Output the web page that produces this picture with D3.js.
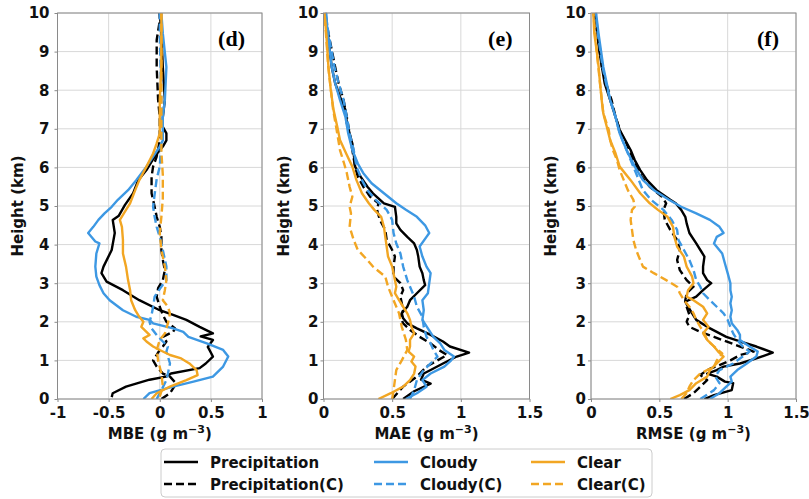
<!DOCTYPE html>
<html><head><meta charset="utf-8">
<script src="https://cdn.jsdelivr.net/npm/d3@7"></script>
<style>
html,body{margin:0;padding:0;background:#fff;}
svg{display:block;font-family:"DejaVu Sans",sans-serif;}
</style></head>
<body>
<script>
// ---------------- DATA (pairs are [height km, value g m-3]) ----------------
const seriesNames = ["Precipitation","Precipitation(C)","Cloudy","Cloudy(C)","Clear","Clear(C)"];
const yTicks = [0,1,2,3,4,5,6,7,8,9,10];
const mbeTicks = [-1,-0.5,0,0.5,1];
const maeTicks = [0,0.5,1,1.5];
const rmseTicks = [0,0.5,1,1.5];
const panelLetters = ["(d)","(e)","(f)"];
const axisTitles = ["MBE","MAE","RMSE"];

const mbePrecip = [[0.05,-0.47],[0.15,-0.46],[0.32,-0.33],[0.5,-0.1],[0.58,0.06],[0.66,0.11],[0.8,0.39],[0.92,0.45],[1.1,0.52],[1.35,0.47],[1.53,0.52],[1.62,0.4],[1.7,0.52],[1.87,0.39],[2.05,0.26],[2.18,0.13],[2.3,0],[2.56,-0.2],[2.82,-0.36],[3.04,-0.52],[3.26,-0.57],[3.43,-0.55],[3.86,-0.47],[4.3,-0.44],[4.64,-0.46],[4.75,-0.4],[5.03,-0.34],[5.33,-0.26],[5.67,-0.21],[5.93,-0.13],[6.28,-0.05],[6.54,0.03],[6.7,0.065],[6.88,0.065],[7.05,0.03],[7.3,0.03],[7.75,0.05],[8.6,0.03],[9.47,0.016],[10,0]];
const mbePrecipC = [[0,0.016],[0.15,0.1],[0.4,0.16],[0.58,0.1],[0.66,0.03],[0.84,-0.03],[1.0,-0.065],[1.14,-0.03],[1.27,0],[1.36,0.03],[1.49,0.065],[1.61,0.03],[1.74,0.13],[1.83,0.15],[2.0,0.065],[2.18,0.03],[2.39,0],[2.65,-0.03],[2.87,-0.016],[3.08,0.03],[3.34,0.05],[3.6,0.03],[3.86,0.016],[4.2,0.016],[4.46,0],[4.72,-0.03],[4.98,-0.05],[5.33,-0.08],[5.76,-0.08],[6.02,-0.065],[6.28,-0.03],[6.7,0],[7.3,0],[7.75,-0.016],[8.6,-0.03],[9.3,-0.03],[9.8,0],[10,0]];
const mbeCloudy = [[0,-0.16],[0.15,-0.1],[0.32,0.13],[0.45,0.33],[0.58,0.52],[0.84,0.62],[1.1,0.67],[1.27,0.62],[1.44,0.46],[1.61,0.28],[1.74,0.23],[1.83,0.13],[1.96,-0.065],[2.05,-0.1],[2.13,-0.23],[2.3,-0.36],[2.56,-0.49],[2.74,-0.55],[2.95,-0.59],[3.17,-0.62],[3.43,-0.63],[3.77,-0.62],[4.03,-0.59],[4.08,-0.63],[4.3,-0.7],[4.46,-0.65],[4.64,-0.6],[4.81,-0.54],[4.98,-0.47],[5.16,-0.41],[5.41,-0.31],[5.67,-0.23],[6.02,-0.13],[6.28,-0.065],[6.54,0],[6.7,0.03],[7.3,0.03],[7.75,0.05],[8.6,0.065],[9.47,0.03],[10,0.016]];
const mbeCloudyC = [[0,-0.03],[0.23,0.016],[0.49,0.065],[0.66,0.08],[0.92,0.1],[1.1,0.08],[1.23,0.065],[1.36,0.08],[1.49,0.03],[1.66,-0.03],[1.83,-0.08],[2.0,-0.1],[2.18,-0.08],[2.39,-0.065],[2.65,-0.05],[2.91,0.016],[3.08,0.065],[3.43,0.065],[3.86,0.03],[4.2,0],[4.46,-0.03],[4.72,-0.05],[4.98,-0.065],[5.3,-0.05],[5.7,-0.03],[6.02,0],[6.7,0.016],[7.75,0.016],[9.47,0],[10,0]];
const mbeClear = [[0,-0.08],[0.15,-0.03],[0.32,0.1],[0.49,0.26],[0.62,0.37],[0.75,0.36],[0.92,0.29],[1.05,0.21],[1.14,0.1],[1.27,0],[1.36,-0.065],[1.49,-0.13],[1.57,-0.16],[1.66,-0.1],[1.74,-0.13],[1.87,-0.18],[2.0,-0.16],[2.13,-0.2],[2.3,-0.24],[2.56,-0.28],[2.82,-0.29],[3.08,-0.31],[3.43,-0.33],[3.77,-0.36],[4.12,-0.36],[4.46,-0.37],[4.64,-0.39],[4.77,-0.36],[4.9,-0.33],[5.07,-0.29],[5.41,-0.24],[5.67,-0.2],[6.02,-0.13],[6.36,-0.065],[6.62,-0.03],[6.88,0],[7.75,0],[8.6,0.016],[10,0.016]];
const mbeClearC = [[0.06,0],[0.32,0.03],[0.66,0.016],[1.0,-0.016],[1.27,-0.03],[1.53,0],[1.7,0.05],[1.96,0.08],[2.22,0.1],[2.39,0.08],[2.56,0.03],[2.82,0.05],[3.08,0.065],[3.43,0.05],[3.86,0.016],[4.3,0],[4.72,0.016],[5.2,0.03],[5.8,0.03],[6.4,0.016],[7.5,0.016],[10,0.016]];

const maePrecip = [[0,0.58],[0.2,0.66],[0.4,0.78],[0.5,0.71],[0.66,0.73],[0.75,0.78],[0.92,0.87],[1.1,0.97],[1.2,1.06],[1.36,0.92],[1.49,0.87],[1.66,0.78],[1.83,0.68],[1.96,0.61],[2.09,0.58],[2.22,0.57],[2.39,0.61],[2.56,0.63],[2.74,0.68],[2.95,0.74],[3.08,0.73],[3.26,0.72],[3.43,0.7],[3.69,0.69],[3.86,0.68],[4.03,0.66],[4.2,0.61],[4.38,0.56],[4.55,0.53],[4.72,0.53],[4.98,0.52],[5.07,0.44],[5.33,0.36],[5.5,0.32],[5.76,0.27],[6.02,0.23],[6.36,0.22],[6.62,0.21],[6.88,0.19],[7.14,0.17],[7.49,0.16],[7.83,0.12],[8.18,0.085],[8.6,0.06],[9.04,0.045],[9.47,0.03],[10,0.012]];
const maePrecipC = [[0,0.5],[0.32,0.58],[0.58,0.68],[0.84,0.75],[1.0,0.83],[1.14,0.9],[1.27,0.84],[1.44,0.78],[1.61,0.7],[1.79,0.63],[1.96,0.58],[2.13,0.56],[2.3,0.58],[2.48,0.57],[2.65,0.56],[2.82,0.58],[3.0,0.56],[3.17,0.51],[3.43,0.51],[3.69,0.52],[3.86,0.5],[4.12,0.46],[4.38,0.45],[4.64,0.41],[4.9,0.39],[5.07,0.4],[5.24,0.34],[5.5,0.29],[5.76,0.25],[6.02,0.23],[6.45,0.21],[6.88,0.19],[7.3,0.17],[7.75,0.146],[8.18,0.11],[8.6,0.085],[9.47,0.036],[10,0.012]];
const maeCloudy = [[0,0.6],[0.15,0.68],[0.32,0.75],[0.49,0.72],[0.66,0.78],[0.84,0.88],[1.0,0.93],[1.1,0.95],[1.27,0.88],[1.44,0.85],[1.61,0.8],[1.83,0.76],[2.05,0.72],[2.3,0.73],[2.56,0.72],[2.74,0.76],[3.0,0.77],[3.26,0.78],[3.43,0.75],[3.69,0.72],[3.95,0.7],[4.2,0.75],[4.3,0.77],[4.5,0.74],[4.72,0.68],[4.9,0.6],[5.07,0.53],[5.33,0.44],[5.59,0.35],[5.85,0.29],[6.1,0.25],[6.45,0.21],[6.88,0.18],[7.3,0.16],[7.75,0.12],[8.18,0.085],[8.6,0.06],[9.04,0.045],[9.47,0.03],[10,0.02]];
const maeCloudyC = [[0,0.63],[0.23,0.66],[0.49,0.68],[0.75,0.73],[0.92,0.78],[1.1,0.83],[1.27,0.8],[1.44,0.78],[1.61,0.75],[1.87,0.73],[2.13,0.72],[2.39,0.68],[2.65,0.66],[2.91,0.63],[3.08,0.61],[3.43,0.58],[3.77,0.56],[4.03,0.53],[4.3,0.51],[4.64,0.5],[4.9,0.46],[5.16,0.38],[5.41,0.32],[5.67,0.28],[6.02,0.24],[6.45,0.22],[6.88,0.19],[7.3,0.17],[7.75,0.146],[8.18,0.11],[8.6,0.08],[9.47,0.036],[10,0.015]];
const maeClear = [[0,0.4],[0.15,0.49],[0.32,0.58],[0.49,0.63],[0.66,0.66],[0.84,0.67],[0.97,0.64],[1.1,0.66],[1.23,0.62],[1.36,0.63],[1.53,0.63],[1.7,0.66],[1.87,0.64],[2.05,0.63],[2.22,0.61],[2.39,0.58],[2.56,0.55],[2.74,0.52],[2.91,0.53],[3.08,0.52],[3.26,0.51],[3.43,0.5],[3.69,0.47],[3.95,0.46],[4.2,0.45],[4.46,0.44],[4.72,0.42],[4.9,0.37],[5.07,0.33],[5.33,0.28],[5.67,0.24],[6.02,0.21],[6.36,0.165],[6.71,0.12],[7.06,0.1],[7.49,0.073],[8.0,0.053],[8.6,0.036],[9.47,0.02],[10,0.007]];
const maeClearC = [[0,0.5],[0.23,0.51],[0.49,0.52],[0.75,0.53],[1.0,0.57],[1.27,0.61],[1.53,0.6],[1.87,0.57],[2.22,0.55],[2.56,0.51],[2.91,0.47],[3.17,0.45],[3.43,0.36],[3.6,0.32],[3.86,0.25],[4.12,0.22],[4.46,0.19],[4.81,0.2],[4.98,0.19],[5.24,0.21],[5.5,0.19],[5.85,0.17],[6.1,0.15],[6.45,0.12],[6.88,0.1],[7.5,0.07],[8.6,0.035],[10,0.007]];

const rmsePrecip = [[0,0.83],[0.1,0.9],[0.23,1.03],[0.41,1.04],[0.45,0.98],[0.58,0.92],[0.66,0.85],[0.75,0.92],[0.84,0.97],[0.92,1.09],[1.05,1.21],[1.2,1.33],[1.36,1.21],[1.49,1.09],[1.61,0.99],[1.74,0.92],[1.87,0.85],[2.05,0.77],[2.22,0.74],[2.39,0.71],[2.52,0.69],[2.65,0.77],[2.82,0.82],[3.0,0.88],[3.08,0.85],[3.26,0.82],[3.43,0.82],[3.69,0.83],[3.86,0.8],[4.03,0.77],[4.3,0.72],[4.55,0.7],[4.72,0.69],[4.9,0.66],[5.07,0.62],[5.16,0.58],[5.41,0.48],[5.67,0.41],[5.93,0.36],[6.19,0.32],[6.45,0.29],[6.71,0.25],[6.97,0.21],[7.3,0.18],[7.75,0.14],[8.18,0.1],[8.6,0.08],[9.04,0.06],[9.47,0.046],[10,0.03]];
const rmsePrecipC = [[0,0.68],[0.15,0.75],[0.32,0.8],[0.49,0.85],[0.62,0.8],[0.75,0.85],[0.88,0.94],[1.0,1.02],[1.14,1.09],[1.23,1.19],[1.36,1.09],[1.49,0.99],[1.61,0.9],[1.74,0.8],[1.87,0.72],[2.0,0.7],[2.18,0.72],[2.39,0.7],[2.56,0.69],[2.74,0.7],[2.91,0.75],[3.08,0.7],[3.34,0.65],[3.6,0.63],[3.86,0.65],[4.12,0.63],[4.38,0.58],[4.64,0.54],[4.9,0.53],[5.07,0.55],[5.24,0.52],[5.5,0.43],[5.76,0.37],[6.02,0.33],[6.28,0.3],[6.62,0.26],[6.88,0.22],[7.3,0.18],[7.75,0.15],[8.18,0.11],[8.6,0.08],[9.47,0.046],[10,0.03]];
const rmseCloudy = [[0,0.87],[0.15,0.94],[0.32,0.99],[0.45,1.03],[0.58,1.02],[0.75,1.07],[0.92,1.14],[1.1,1.21],[1.23,1.22],[1.36,1.16],[1.53,1.09],[1.66,1.09],[1.79,1.07],[1.96,1.03],[2.13,1.02],[2.3,1.03],[2.48,1.02],[2.65,1.03],[2.82,1.02],[3.0,1.02],[3.26,1.0],[3.51,0.98],[3.77,0.96],[4.03,0.9],[4.2,0.92],[4.3,0.97],[4.46,0.94],[4.64,0.87],[4.81,0.77],[4.98,0.66],[5.16,0.57],[5.41,0.46],[5.67,0.38],[6.02,0.32],[6.45,0.26],[6.88,0.21],[7.3,0.18],[7.75,0.14],[8.18,0.115],[8.6,0.09],[9.47,0.055],[10,0.037]];
const rmseCloudyC = [[0,0.8],[0.23,0.9],[0.41,0.94],[0.58,0.91],[0.75,0.94],[0.92,1.04],[1.1,1.11],[1.23,1.16],[1.36,1.11],[1.53,1.07],[1.7,1.04],[1.87,1.02],[2.05,1.0],[2.22,0.97],[2.39,0.92],[2.56,0.87],[2.74,0.82],[2.91,0.8],[3.08,0.77],[3.34,0.75],[3.6,0.72],[3.86,0.68],[4.12,0.64],[4.38,0.63],[4.64,0.59],[4.9,0.53],[5.16,0.44],[5.41,0.38],[5.67,0.35],[6.02,0.31],[6.45,0.26],[6.88,0.21],[7.3,0.18],[7.75,0.14],[8.18,0.11],[8.6,0.085],[9.47,0.05],[10,0.035]];
const rmseClear = [[0,0.58],[0.1,0.65],[0.23,0.72],[0.41,0.77],[0.58,0.85],[0.75,0.87],[0.92,0.92],[1.1,0.97],[1.23,0.93],[1.36,0.9],[1.53,0.85],[1.7,0.82],[1.87,0.86],[2.05,0.82],[2.22,0.85],[2.39,0.82],[2.56,0.75],[2.65,0.7],[2.82,0.71],[3.0,0.75],[3.17,0.74],[3.43,0.7],[3.69,0.68],[3.95,0.63],[4.2,0.61],[4.46,0.6],[4.72,0.56],[4.9,0.49],[5.07,0.43],[5.33,0.36],[5.67,0.29],[6.02,0.21],[6.36,0.18],[6.71,0.14],[7.06,0.115],[7.4,0.09],[7.75,0.078],[8.18,0.066],[8.6,0.056],[9.04,0.041],[9.47,0.024],[10,0.017]];
const rmseClearC = [[0,0.66],[0.15,0.7],[0.32,0.72],[0.49,0.75],[0.66,0.8],[0.84,0.9],[1.0,0.92],[1.18,0.96],[1.36,0.9],[1.53,0.85],[1.7,0.83],[1.87,0.8],[2.05,0.77],[2.22,0.75],[2.39,0.72],[2.56,0.68],[2.74,0.65],[2.91,0.63],[3.08,0.55],[3.26,0.46],[3.43,0.38],[3.6,0.36],[3.86,0.33],[4.12,0.31],[4.38,0.3],[4.64,0.29],[4.9,0.3],[4.98,0.32],[5.16,0.31],[5.41,0.27],[5.67,0.24],[5.93,0.21],[6.19,0.19],[6.45,0.16],[6.71,0.14],[6.97,0.13],[7.4,0.09],[8.18,0.066],[9.04,0.041],[10,0.017]];

// ---------------- STYLE / LAYOUT ----------------
const colors = ["#000000","#000000","#3d98e3","#3d98e3","#f2a623","#f2a623"];
const dashed = [false,true,false,true,false,true];
const panels = [
  {x0:57.5, x1:262, domain:[-1,1], ticks:mbeTicks, pad:5, series:[mbePrecip,mbePrecipC,mbeCloudy,mbeCloudyC,mbeClear,mbeClearC]},
  {x0:323.5, x1:529.5, domain:[0,1.5], ticks:maeTicks, pad:2, series:[maePrecip,maePrecipC,maeCloudy,maeCloudyC,maeClear,maeClearC]},
  {x0:591, x1:796, domain:[0,1.5], ticks:rmseTicks, pad:2, series:[rmsePrecip,rmsePrecipC,rmseCloudy,rmseCloudyC,rmseClear,rmseClearC]}
];
const yTop = 13, yBot = 399;
const fmt = v => String(v);

const svg = d3.select("body").append("svg").attr("width",809).attr("height",499);

panels.forEach((p,i)=>{
  const x = d3.scaleLinear().domain(p.domain).range([p.x0,p.x1]);
  const y = d3.scaleLinear().domain([0,10]).range([yBot,yTop]);
  const g = svg.append("g");
  g.append("g").selectAll("line").data(p.ticks).join("line")
    .attr("x1",d=>x(d)).attr("x2",d=>x(d)).attr("y1",yTop).attr("y2",yBot)
    .attr("stroke","#d8d8d8").attr("stroke-width",1);
  g.append("g").selectAll("line").data(yTicks).join("line")
    .attr("y1",d=>y(d)).attr("y2",d=>y(d)).attr("x1",p.x0).attr("x2",p.x1)
    .attr("stroke","#d8d8d8").attr("stroke-width",1);
  const cid = "clip"+i;
  svg.append("clipPath").attr("id",cid).append("rect")
    .attr("x",p.x0).attr("y",yTop-2).attr("width",p.x1-p.x0).attr("height",yBot-yTop+2);
  const line = d3.line().x(d=>x(d[1])).y(d=>y(d[0]));
  const lg = g.append("g").attr("clip-path",`url(#${cid})`);
  p.series.forEach((s,k)=>{
    lg.append("path").datum(s).attr("d",line).attr("fill","none")
      .attr("stroke",colors[k]).attr("stroke-width",2.4)
      .attr("stroke-linejoin","round")
      .attr("stroke-dasharray",dashed[k]?"8,4":null);
  });
  g.append("rect").attr("x",p.x0).attr("y",yTop).attr("width",p.x1-p.x0).attr("height",yBot-yTop)
    .attr("fill","none").attr("stroke","#8a8a8a").attr("stroke-width",1);
  const ax = g.append("g").attr("transform",`translate(0,${yBot})`)
    .call(d3.axisBottom(x).tickValues(p.ticks).tickFormat(fmt).tickSize(3).tickPadding(5));
  const ay = g.append("g").attr("transform",`translate(${p.x0},0)`)
    .call(d3.axisLeft(y).tickValues(yTicks).tickFormat(fmt).tickSize(3).tickPadding(p.pad));
  [ax,ay].forEach(a=>{
    a.select(".domain").remove();
    a.selectAll(".tick line").attr("stroke","#8a8a8a");
    a.selectAll(".tick text").attr("fill","#111").attr("font-size",15).attr("font-weight","bold")
      .attr("font-family","DejaVu Sans");
  });
  const t = g.append("text").attr("x",(p.x0+p.x1)/2).attr("y",439).attr("text-anchor","middle")
    .attr("font-size",15).attr("font-weight","bold").attr("fill","#111");
  t.append("tspan").text(axisTitles[i]+" (g m");
  t.append("tspan").attr("dy",-6).attr("font-size",11).text("\u22123");
  t.append("tspan").attr("dy",6).text(")");
  g.append("text").attr("transform",`translate(${p.x0-35},${(yTop+yBot)/2}) rotate(-90)`)
    .attr("text-anchor","middle").attr("font-size",15).attr("font-weight","bold").attr("fill","#111")
    .text("Height (km)");
  g.append("text").attr("x",p.x1-17).attr("y",46).attr("text-anchor","end")
    .attr("font-family","Liberation Serif").attr("font-weight","bold").attr("font-size",22)
    .attr("fill","#000").text(panelLetters[i]);
});

const leg = svg.append("g");
leg.append("rect").attr("x",161).attr("y",449).attr("width",491).attr("height",48).attr("rx",4)
  .attr("fill","#fff").attr("stroke","#cccccc");
const colX = [164,374,531];
seriesNames.forEach((n,k)=>{
  const col = Math.floor(k/2), row = k%2;
  const yy = row===0 ? 462 : 484;
  leg.append("line").attr("x1",colX[col]).attr("x2",colX[col]+34).attr("y1",yy).attr("y2",yy)
    .attr("stroke",colors[k]).attr("stroke-width",2.4).attr("stroke-dasharray",dashed[k]?"8,4":null);
  leg.append("text").attr("x",colX[col]+46).attr("y",yy+5.5).attr("font-size",15).attr("font-weight","bold")
    .attr("fill","#111").text(n);
});
</script>
</body></html>
